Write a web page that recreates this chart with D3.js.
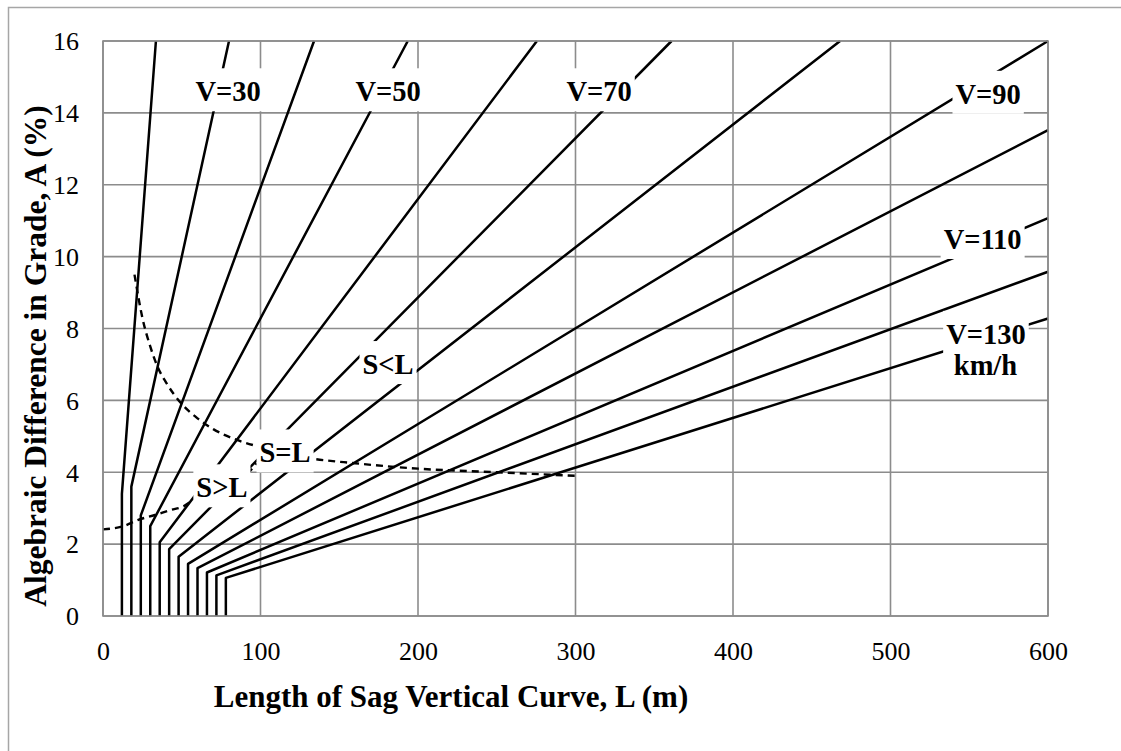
<!DOCTYPE html>
<html>
<head>
<meta charset="utf-8">
<script src="https://cdn.jsdelivr.net/npm/d3@7"></script>
<style>
  html, body { margin: 0; padding: 0; background: #fff; }
  svg { display: block; }
  text { font-family: "Liberation Serif", "Times New Roman", serif; fill: #000; }
</style>
</head>
<body>
<svg id="chart" width="1121" height="751"></svg>
<script>
// ---- data ----
const speeds     = [20, 30, 40, 50, 60, 70, 80, 90, 100, 110, 120, 130];
const minLength  = [12, 18, 24, 30, 36, 42, 48, 54, 60, 66, 72, 78];
const bendA      = [3.4, 3.6, 2.8, 2.5, 2.05, 1.86, 1.65, 1.45, 1.33, 1.21, 1.13, 1.06];
const endL       = [33.6, 80, 134, 193.5, 275.5, 361, 468, 600, 600, 600, 600, 600];
const endA       = [16, 16, 16, 16, 16, 16, 16, 16, 13.52, 11.07, 9.58, 8.28];

const sEqL_L = [20, 25, 30, 35, 40, 50, 60, 70, 85, 100, 130, 160, 200, 250, 300];
const sEqL_A = [9.5, 8.3, 7.5, 6.9, 6.5, 5.9, 5.5, 5.2, 4.9, 4.7, 4.4, 4.25, 4.1, 4.0, 3.9];

const lowL = [0, 13, 22, 33, 43, 51, 58, 75, 93, 97.6];
const lowA = [2.41, 2.5, 2.67, 2.81, 2.95, 3.05, 3.25, 3.6, 4.02, 4.25];

const xTicks = [0, 100, 200, 300, 400, 500, 600];
const yTicks = [0, 2, 4, 6, 8, 10, 12, 14, 16];

const labelText = ["V=30", "V=50", "V=70", "V=90", "V=110", "V=130", "km/h", "S<L", "S=L", "S>L"];
const labelL    = [79.4, 181, 315, 562, 558.5, 560.6, 560.3, 181, 115.6, 75.5];
const labelA    = [14.6, 14.6, 14.6, 14.53, 10.49, 7.85, 6.98, 7.01, 4.55, 3.58];

const xTitle = "Length of Sag Vertical Curve, L (m)";
const yTitle = "Algebraic Difference in Grade, A (%)";

(function () {
// ---- layout ----
const svg = d3.select("#chart");
const pl = 103, pr = 1048, pt = 41, pb = 616;
const x = d3.scaleLinear().domain([0, 600]).range([pl, pr]);
const y = d3.scaleLinear().domain([0, 16]).range([pb, pt]);

// outer frame
svg.append("rect").attr("x", 8.5).attr("y", 7.5).attr("width", 1130).attr("height", 760)
  .attr("fill", "none").attr("stroke", "#a6a6a6").attr("stroke-width", 1.5);

// gridlines
const grid = svg.append("g");
grid.selectAll("line.v").data(xTicks).join("line").attr("class", "v")
  .attr("x1", d => x(d)).attr("x2", d => x(d)).attr("y1", pt).attr("y2", pb)
  .attr("stroke", "#8c8c8c").attr("stroke-width", 1.6);
grid.selectAll("line.h").data(yTicks).join("line").attr("class", "h")
  .attr("y1", d => y(d)).attr("y2", d => y(d)).attr("x1", pl).attr("x2", pr)
  .attr("stroke", "#8c8c8c").attr("stroke-width", 1.6);

// axes (labels only)
const xAxis = d3.axisBottom(x).tickValues(xTicks).tickSize(0).tickPadding(0);
const gx = svg.append("g").attr("transform", `translate(0,${pb})`).call(xAxis);
gx.select(".domain").remove();
gx.selectAll("text").attr("font-size", 26).attr("dy", null).attr("y", 44)
  .style("font-family", "Liberation Serif").style("fill", "#000");

const yAxis = d3.axisLeft(y).tickValues(yTicks).tickSize(0).tickPadding(0);
const gy = svg.append("g").attr("transform", `translate(${pl},0)`).call(yAxis);
gy.select(".domain").remove();
gy.selectAll("text").attr("font-size", 26).attr("x", -24).attr("dy", "0.34em")
  .style("font-family", "Liberation Serif").style("fill", "#000");

// speed lines
const lineGen = d3.line().x(d => x(d[0])).y(d => y(d[1]));
svg.append("clipPath").attr("id", "plotclip").append("rect")
  .attr("x", pl).attr("y", pt - 2).attr("width", pr - pl + 4).attr("height", pb - pt + 2);
const plot = svg.append("g").attr("clip-path", "url(#plotclip)");
speeds.forEach((v, i) => {
  const pts = [[minLength[i], 0], [minLength[i], bendA[i]], [endL[i], endA[i]]];
  plot.append("path").attr("d", lineGen(pts)).attr("fill", "none")
    .attr("stroke", "#000").attr("stroke-width", 2.5).attr("stroke-linejoin", "round");
});

// dashed curves
const curveGen = d3.line().x(d => x(d[0])).y(d => y(d[1])).curve(d3.curveMonotoneX);
plot.append("path").attr("d", curveGen(sEqL_L.map((l, i) => [l, sEqL_A[i]])))
  .attr("fill", "none").attr("stroke", "#000").attr("stroke-width", 2.4).attr("stroke-dasharray", "7,5");
plot.append("path").attr("d", curveGen(lowL.map((l, i) => [l, lowA[i]])))
  .attr("fill", "none").attr("stroke", "#000").attr("stroke-width", 2.4).attr("stroke-dasharray", "7,5");

// plot border on top
svg.append("rect").attr("x", pl).attr("y", pt).attr("width", pr - pl).attr("height", pb - pt)
  .attr("fill", "none").attr("stroke", "#8c8c8c").attr("stroke-width", 1.6);

// labels with white backgrounds (all backgrounds first, then texts)
const bgLayer = svg.append("g");
const txtLayer = svg.append("g");
labelText.forEach((t, i) => {
  const txt = txtLayer.append("text").attr("x", x(labelL[i])).attr("y", y(labelA[i]))
    .attr("text-anchor", "middle").attr("dy", "0.35em")
    .attr("font-size", 28.5).attr("font-weight", "bold").text(t);
  const b = txt.node().getBBox();
  bgLayer.append("rect").attr("x", b.x - 3).attr("y", b.y - 8)
    .attr("width", b.width + 6).attr("height", b.height + 12).attr("fill", "#fff");
});

// axis titles
svg.append("text").attr("x", 451).attr("y", 707).attr("text-anchor", "middle")
  .attr("font-size", 31).attr("font-weight", "bold").text(xTitle);
svg.append("text").attr("transform", "translate(35,356) rotate(-90)").attr("text-anchor", "middle")
  .attr("dy", "0.35em").attr("font-size", 31.5).attr("font-weight", "bold").text(yTitle);
})();
</script>
</body>
</html>
